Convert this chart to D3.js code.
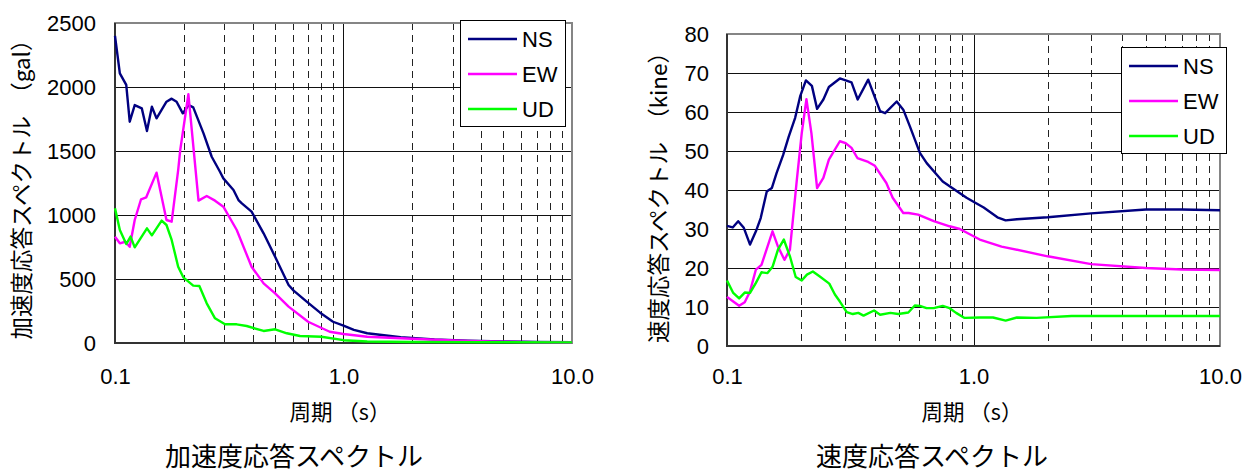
<!DOCTYPE html>
<html><head><meta charset="utf-8">
<script src="https://cdn.jsdelivr.net/npm/d3@7"></script>
<style>body{margin:0;background:#fff}</style>
</head><body>
<svg id="c" width="1253" height="474"></svg>
<script>
// ---------- data ----------
const seriesNames = ["NS", "EW", "UD"];
const xTickLabels = ["0.1", "1.0", "10.0"];
const accYTicks = [0, 500, 1000, 1500, 2000, 2500];
const velYTicks = [0, 10, 20, 30, 40, 50, 60, 70, 80];

// Acceleration response spectrum (gal)
const accNsT = [0.100,0.105,0.112,0.116,0.122,0.131,0.138,0.145,0.152,0.168,0.177,0.186,0.198,0.210,0.220,0.244,0.265,0.288,0.298,0.330,0.347,0.359,0.396,0.447,0.502,0.575,0.605,0.690,0.790,0.900,1.000,1.110,1.270,1.780,2.5,3.5,5,7,10];
const accNsV = [2400,2107,2016,1729,1859,1833,1656,1846,1755,1885,1909,1885,1794,1859,1841,1638,1455,1338,1286,1195,1117,1091,1026,857,674,453,409,323,237,166,135,102,76,45,28,18,12,8,6];
const accEwT = [0.100,0.105,0.111,0.116,0.122,0.130,0.137,0.152,0.168,0.177,0.189,0.193,0.2095,0.232,0.252,0.274,0.298,0.341,0.396,0.447,0.502,0.575,0.700,0.870,1.000,1.270,1.780,2.5,3.5,5,7,10];
const accEwV = [830,779,791,752,961,1123,1138,1331,961,948,1351,1508,1943,1112,1148,1112,1065,883,596,466,388,284,166,88,70,49,37,25,16,10,6,4];
const accUdT = [0.100,0.105,0.112,0.117,0.122,0.138,0.145,0.160,0.168,0.177,0.189,0.199,0.220,0.234,0.252,0.274,0.303,0.341,0.377,0.447,0.502,0.565,0.645,0.800,1.000,1.270,2,4,10];
const accUdV = [1052,883,773,831,747,896,841,956,922,805,596,513,448,445,310,193,146,146,133,94,107,76,55,49,22,12,8,6,5];

// Velocity response spectrum (kine)
const velNsT = [0.100,0.1055,0.111,0.117,0.124,0.131,0.137,0.145,0.152,0.159,0.169,0.178,0.189,0.198,0.209,0.221,0.232,0.246,0.259,0.287,0.320,0.339,0.374,0.418,0.438,0.488,0.519,0.552,0.606,0.646,0.750,0.937,1.0,1.1,1.25,1.35,1.5,2.0,3.0,5,7,10];
const velNsV = [30.8,30.4,32.0,30.3,26.0,29.4,32.8,39.6,40.5,44.4,49.0,53.7,58.5,64.0,68.1,66.7,60.8,63.2,66.4,68.6,67.6,63.2,68.3,60.2,59.7,62.7,60.6,56.3,49.5,46.9,42.2,38.0,37.0,35.5,33.0,32.2,32.5,33.0,34.0,35.0,35.0,34.8];
const velEwT = [0.100,0.106,0.112,0.118,0.124,0.131,0.138,0.153,0.161,0.171,0.180,0.192,0.201,0.210,0.220,0.232,0.246,0.259,0.287,0.303,0.320,0.338,0.374,0.398,0.443,0.470,0.519,0.545,0.596,0.690,0.800,0.880,1.060,1.3,2,3,5,7,10];
const velEwV = [12.6,11.4,10.3,11.2,14.0,19.6,20.8,29.4,25.5,22.1,24.7,42.6,54.6,63.3,54.6,40.5,43.1,47.8,52.5,52.0,50.8,48.2,47.2,46.2,41.8,38.0,34.1,34.1,33.7,32.0,30.7,30.0,27.3,25.5,23,21,20,19.6,19.5];
const velUdT = [0.100,0.106,0.112,0.118,0.124,0.131,0.138,0.146,0.153,0.161,0.170,0.180,0.190,0.201,0.211,0.223,0.238,0.260,0.274,0.287,0.306,0.324,0.341,0.358,0.395,0.418,0.460,0.495,0.544,0.578,0.606,0.645,0.690,0.750,0.800,0.850,0.920,1.06,1.2,1.35,1.5,1.8,2.5,5,10];
const velUdV = [16.8,13.6,12.2,13.7,13.6,16.2,18.9,18.7,20.3,24.7,27.3,23.0,17.7,16.8,18.3,19.1,17.8,16.0,13.2,11.4,8.7,8.2,8.5,7.8,9.1,8.0,8.5,8.2,8.6,10.4,10.3,9.7,9.7,10.3,9.7,8.5,7.2,7.3,7.3,6.5,7.3,7.2,7.7,7.7,7.7];

const colors = ["#000080", "#ff00ff", "#00ff00"];

// ---------- drawing ----------
const svg = d3.select("#c");
const numFont = "'Liberation Sans', Arial, sans-serif";
const jpFont = "'Noto Sans CJK JP', sans-serif";

function drawChart(cfg) {
  const g = svg.append("g");
  const x = d3.scaleLog().domain([0.1, 10]).range([cfg.x0, cfg.x1]);
  const y = d3.scaleLinear().domain([0, cfg.yTicks[cfg.yTicks.length - 1]]).range([cfg.y1, cfg.y0]);

  // vertical grid
  const minor = [0.2,0.3,0.4,0.5,0.6,0.7,0.8,0.9,2,3,4,5,6,7,8,9];
  g.append("g").selectAll("line").data(minor).join("line")
    .attr("x1", d => Math.round(x(d)) + 0.5).attr("x2", d => Math.round(x(d)) + 0.5)
    .attr("y1", cfg.y0).attr("y2", cfg.y1)
    .attr("stroke", "#222").attr("stroke-width", 1).attr("stroke-dasharray", "7,5");
  g.append("line").attr("x1", Math.round(x(1)) + 0.5).attr("x2", Math.round(x(1)) + 0.5)
    .attr("y1", cfg.y0).attr("y2", cfg.y1).attr("stroke", "#111").attr("stroke-width", 1);

  // horizontal grid
  g.append("g").selectAll("line").data(cfg.yTicks.slice(1, -1)).join("line")
    .attr("x1", cfg.x0).attr("x2", cfg.x1)
    .attr("y1", d => Math.round(y(d)) + 0.5).attr("y2", d => Math.round(y(d)) + 0.5)
    .attr("stroke", "#111").attr("stroke-width", 1);

  // frame
  g.append("rect").attr("x", cfg.x0).attr("y", cfg.y0)
    .attr("width", cfg.x1 - cfg.x0).attr("height", cfg.y1 - cfg.y0)
    .attr("fill", "none").attr("stroke", "#858585").attr("stroke-width", 2);
  g.append("path").attr("d", `M${cfg.x0},${cfg.y0}V${cfg.y1}H${cfg.x1}`)
    .attr("fill", "none").attr("stroke", "#333").attr("stroke-width", 2);

  // y tick labels
  const yAxis = d3.axisLeft(y).tickValues(cfg.yTicks).tickSize(0).tickPadding(0).tickFormat(d3.format("d"));
  const ya = g.append("g").attr("transform", `translate(${cfg.yLabelX},0)`).call(yAxis);
  ya.select(".domain").remove();
  ya.selectAll("text").attr("font-family", numFont).attr("font-size", 22).attr("fill", "#000");

  // x tick labels
  const xAxis = d3.axisBottom(x).tickValues([0.1, 1, 10]).tickSize(0).tickPadding(0)
    .tickFormat((d, i) => xTickLabels[i]);
  const xa = g.append("g").attr("transform", `translate(0,${cfg.xLabelY})`).call(xAxis);
  xa.select(".domain").remove();
  xa.selectAll("text").attr("font-family", numFont).attr("font-size", 22).attr("fill", "#000");

  // series
  const line = d3.line().x(d => x(d[0])).y(d => y(d[1]));
  cfg.series.forEach((s, i) => {
    const pts = s.t.map((t, k) => [t, s.v[k]]);
    g.append("path").datum(pts).attr("d", line)
      .attr("fill", "none").attr("stroke", colors[i]).attr("stroke-width", 2.4)
      .attr("stroke-linejoin", "round");
  });

  // legend
  const lg = g.append("g").attr("transform", `translate(${cfg.legX},${cfg.legY})`);
  lg.append("rect").attr("x", 0.5).attr("y", 0.5).attr("width", 105).attr("height", 106)
    .attr("fill", "#fff").attr("stroke", "#000").attr("stroke-width", 1);
  seriesNames.forEach((n, i) => {
    const yy = 19 + i * 35;
    lg.append("line").attr("x1", 8).attr("x2", 57).attr("y1", yy).attr("y2", yy)
      .attr("stroke", colors[i]).attr("stroke-width", 2.4);
    lg.append("text").attr("x", 62).attr("y", yy).attr("dy", "0.36em")
      .attr("font-family", numFont).attr("font-size", 22).text(n);
  });

  // axis titles
  g.append("text").attr("transform", `translate(${cfg.yTitleX},${cfg.yTitleY}) rotate(-90)`)
    .attr("text-anchor", "middle").attr("dy", "0.36em")
    .attr("font-family", jpFont).attr("font-size", 22.5).text(cfg.yTitle);
  g.append("text").attr("x", cfg.xTitleX).attr("y", 412).attr("dy", "0.36em")
    .attr("text-anchor", "middle").attr("font-family", jpFont).attr("font-size", 21.5).text("周期 （s）");
  g.append("text").attr("x", cfg.titleX).attr("y", 457).attr("dy", "0.36em")
    .attr("text-anchor", "middle").attr("font-family", jpFont).attr("font-size", 26).text(cfg.title);
}

drawChart({
  x0: 115, x1: 572, y0: 23, y1: 343, yTicks: accYTicks,
  yLabelX: 96, xLabelY: 368,
  series: [{t: accNsT, v: accNsV}, {t: accEwT, v: accEwV}, {t: accUdT, v: accUdV}],
  legX: 460, legY: 20,
  yTitle: "加速度応答スペクトル　（gal）", yTitleX: 22, yTitleY: 184,
  xTitleX: 340, titleX: 294, title: "加速度応答スペクトル"
});
drawChart({
  x0: 727, x1: 1220, y0: 34, y1: 346, yTicks: velYTicks,
  yLabelX: 709, xLabelY: 368,
  series: [{t: velNsT, v: velNsV}, {t: velEwT, v: velEwV}, {t: velUdT, v: velUdV}],
  legX: 1121, legY: 47,
  yTitle: "速度応答スペクトル　（kine）", yTitleX: 659, yTitleY: 192,
  xTitleX: 972, titleX: 932, title: "速度応答スペクトル"
});
</script>
</body></html>
